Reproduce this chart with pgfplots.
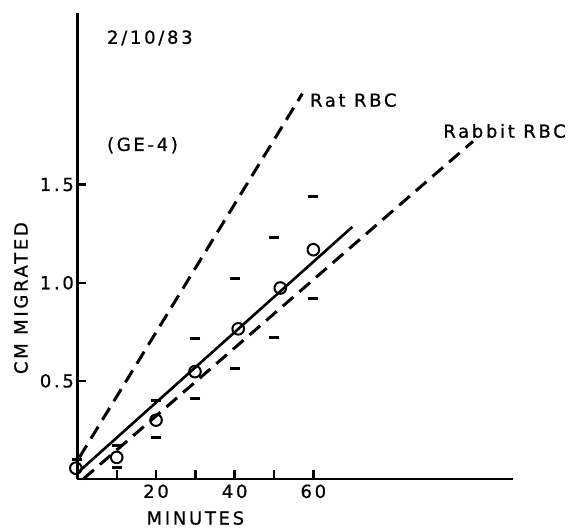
\documentclass[border=0pt]{standalone}
\usepackage{pgfplots}
\pgfplotsset{compat=1.18}
\usepackage{fontspec}
\setmainfont[LetterSpace=15,FakeBold=0.8]{DejaVu Sans}
\newcommand\chfont{\fontsize{18}{21}\selectfont}
\begin{document}
\begin{tikzpicture}[x=1pt,y=1pt,font=\chfont]
\begin{axis}[
  at={(0,0)}, anchor=south west,
  scale only axis, width=435.7pt, height=466.2pt,
  xmin=0, xmax=110.8, ymin=0, ymax=2.375,
  clip=false,
  axis x line=bottom, axis y line=left,
  axis line style={line width=2.8pt, -},
  xtick={10,20,30,40,50,60}, xticklabels={,20,,40,,60},
  ytick={0.5,1,1.5}, yticklabels={0.5,1.0,1.5},
  tick align=inside, major tick length=9pt,
  tick style={line width=2.4pt, black},
  /pgf/number format/assume math mode=true,
  tick label style={font=\chfont},
  xticklabel style={yshift=-2pt},
  xlabel={MINUTES}, ylabel={CM MIGRATED},
  label style={font=\chfont},
  xlabel style={at={(axis description cs:0.2708,-0.0837)}, anchor=center},
  ylabel style={at={(axis description cs:-0.1294,0.388)}, anchor=center},
]
% Rat RBC dashed line
\addplot[black, line width=3pt, dash pattern=on 14pt off 8pt] coordinates {(0.5,0.11) (57.2,1.963)};
% Rabbit RBC dashed line
\addplot[black, line width=3pt, dash pattern=on 14pt off 8pt] coordinates {(1.5,0.0) (100.6,1.72)};
% fitted solid line
\addplot[black, line width=2.6pt] coordinates {(0.5,0.04) (69.9,1.284)};
% upper error marks
\addplot[only marks, mark=-, mark size=5pt, mark options={line width=3pt, black}] coordinates {
 (0,0.10) (10,0.17) (20,0.40) (30,0.714) (40,1.02) (50,1.23) (60,1.437)};
% lower error marks
\addplot[only marks, mark=-, mark size=5pt, mark options={line width=3pt, black}] coordinates {
 (10,0.06) (20,0.21) (30,0.41) (40,0.565) (50,0.72) (60,0.92)};
% means
\addplot[only marks, mark=o, mark size=5.8pt, mark options={line width=2pt, black, fill=white}] coordinates {
 (-0.4,0.055) (10,0.11) (20,0.30) (29.9,0.547) (40.9,0.765) (51.6,0.973) (60,1.168)};
\node[anchor=west, inner sep=0pt] at (axis cs:7.5,2.247) {2/10/83};
\node[anchor=west, inner sep=0pt] at (axis cs:7.5,1.70) {(GE-4)};
\node[anchor=west, inner sep=0pt] at (axis cs:59.1,1.93) {Rat RBC};
\node[anchor=west, inner sep=0pt] at (axis cs:93,1.773) {Rabbit RBC};
\end{axis}
\pgfresetboundingbox
\path[use as bounding box] (-77.4,-51) rectangle (503.6,479);
\end{tikzpicture}
\end{document}
